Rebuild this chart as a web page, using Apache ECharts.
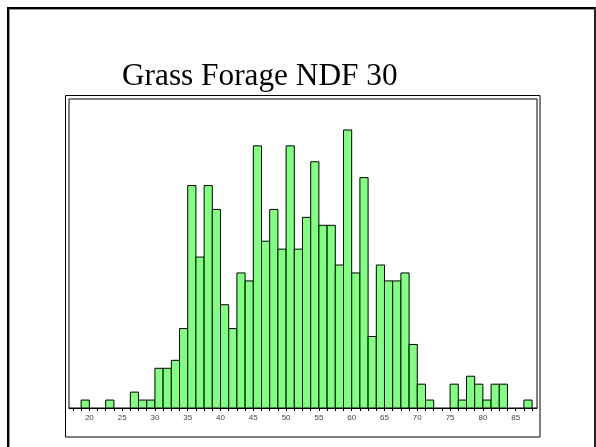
<!DOCTYPE html>
<html>
<head>
<meta charset="utf-8">
<script src="https://cdn.jsdelivr.net/npm/echarts@6/dist/echarts.min.js"></script>
<style>
html,body{margin:0;padding:0;background:#fff;}
#chart{width:596px;height:447px;}
</style>
</head>
<body>
<div id="chart"></div>
<script>
// Histogram bins (lower edges, width 1.25) and counts
const binLow = [18.75, 20, 21.25, 22.5, 23.75, 25, 26.25, 27.5, 28.75,
  30, 31.25, 32.5, 33.75, 35, 36.25, 37.5, 38.75, 40, 41.25, 42.5, 43.75,
  45, 46.25, 47.5, 48.75, 50, 51.25, 52.5, 53.75, 55, 56.25, 57.5, 58.75,
  60, 61.25, 62.5, 63.75, 65, 66.25, 67.5, 68.75, 70, 71.25, 72.5, 73.75,
  75, 76.25, 77.5, 78.75, 80, 81.25, 82.5, 83.75, 85, 86.25];
const binHigh = [20, 21.25, 22.5, 23.75, 25, 26.25, 27.5, 28.75, 30,
  31.25, 32.5, 33.75, 35, 36.25, 37.5, 38.75, 40, 41.25, 42.5, 43.75, 45,
  46.25, 47.5, 48.75, 50, 51.25, 52.5, 53.75, 55, 56.25, 57.5, 58.75, 60,
  61.25, 62.5, 63.75, 65, 66.25, 67.5, 68.75, 70, 71.25, 72.5, 73.75, 75,
  76.25, 77.5, 78.75, 80, 81.25, 82.5, 83.75, 85, 86.25, 87.5];
const counts = [1, 0, 0, 1, 0, 0, 2, 1, 1,
  5, 5, 6, 10, 28, 19, 28, 25, 13, 10, 17, 16,
  33, 21, 25, 20, 33, 20, 24, 31, 23, 23, 18, 35,
  17, 29, 9, 18, 16, 16, 17, 8, 3, 1, 0, 0,
  3, 1, 4, 3, 1, 3, 3, 0, 0, 1];
const tickValues = [17.5, 18.75, 20, 21.25, 22.5, 23.75, 25, 26.25, 27.5, 28.75,
  30, 31.25, 32.5, 33.75, 35, 36.25, 37.5, 38.75, 40, 41.25, 42.5, 43.75,
  45, 46.25, 47.5, 48.75, 50, 51.25, 52.5, 53.75, 55, 56.25, 57.5, 58.75,
  60, 61.25, 62.5, 63.75, 65, 66.25, 67.5, 68.75, 70, 71.25, 72.5, 73.75,
  75, 76.25, 77.5, 78.75, 80, 81.25, 82.5, 83.75, 85, 86.25, 87.5];
const labelValues = [20, 25, 30, 35, 40, 45, 50, 55, 60, 65, 70, 75, 80, 85];
const titleText = 'Grass Forage NDF 30';

const data = binLow.map((lo, i) => [lo, binHigh[i], counts[i]]);

const chart = echarts.init(document.getElementById('chart'), null, {renderer: 'canvas'});
chart.setOption({
  animation: false,
  backgroundColor: '#ffffff',
  title: {
    text: titleText,
    left: 117,
    top: 56,
    textStyle: {fontFamily: 'Liberation Serif', fontSize: 31.3, fontWeight: 'normal', color: '#000'}
  },
  graphic: [
    {type: 'rect', shape: {x: 7, y: 7, width: 2, height: 440}, style: {fill: '#000'}, silent: true},
    {type: 'rect', shape: {x: 9, y: 9, width: 1, height: 438}, style: {fill: '#999'}, silent: true},
    {type: 'rect', shape: {x: 7, y: 7, width: 589, height: 2}, style: {fill: '#000'}, silent: true},
    {type: 'rect', shape: {x: 9, y: 9, width: 587, height: 1}, style: {fill: '#999'}, silent: true},
    {type: 'rect', shape: {x: 594, y: 7, width: 2, height: 440}, style: {fill: '#222'}, silent: true},
    {type: 'rect', shape: {x: 65.5, y: 95.5, width: 474.5, height: 341.5}, style: {fill: 'none', stroke: '#000', lineWidth: 1}, silent: true}
  ],
  grid: {
    left: 69, right: 59, top: 99, bottom: 39,
    show: true, borderColor: '#000', borderWidth: 1, backgroundColor: 'transparent'
  },
  xAxis: {
    type: 'value',
    min: 16.9,
    max: 88.25,
    splitLine: {show: false},
    axisLine: {show: true, onZero: false, lineStyle: {color: '#000', width: 1}},
    axisTick: {show: true, length: 3, inside: false, customValues: tickValues, lineStyle: {color: '#000'}},
    axisLabel: {
      show: true, customValues: labelValues, fontSize: 8, margin: 6,
      fontFamily: 'Liberation Sans', color: '#444',
      formatter: v => String(v)
    }
  },
  yAxis: {
    type: 'value', min: 0, max: 38.9, show: false, splitLine: {show: false}
  },
  series: [{
    type: 'custom',
    data: data,
    encode: {x: [0, 1], y: 2},
    clip: false,
    renderItem: function (params, api) {
      const c = api.value(2);
      if (!c) return null;
      const p0 = api.coord([api.value(0), c]);
      const p1 = api.coord([api.value(1), 0]);
      return {
        type: 'rect',
        shape: {x: p0[0], y: p0[1], width: p1[0] - p0[0], height: p1[1] - p0[1]},
        style: {fill: '#80ff80', stroke: '#000', lineWidth: 1}
      };
    }
  }]
});
</script>
</body>
</html>
